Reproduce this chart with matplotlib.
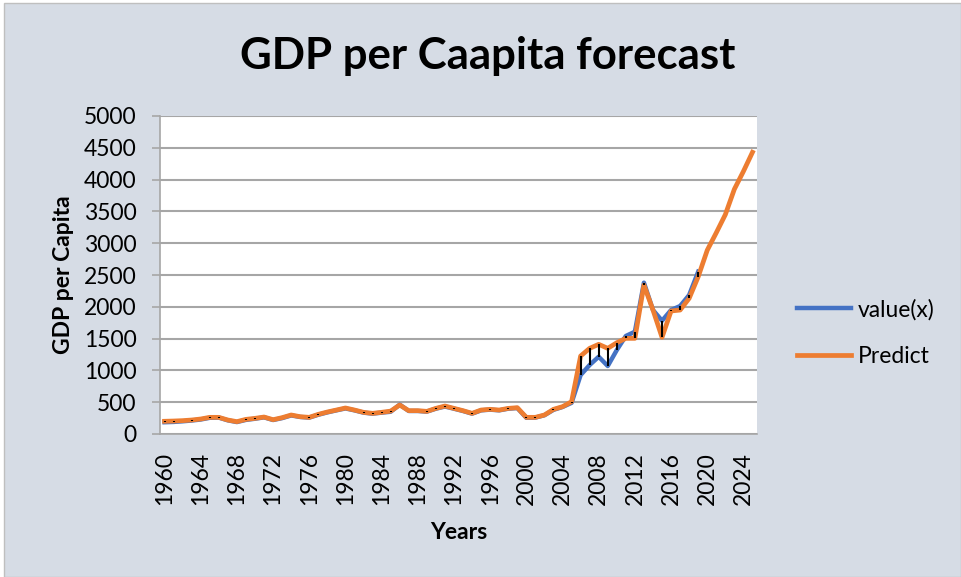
import matplotlib.pyplot as plt
from matplotlib.patches import Rectangle

# dati
years = list(range(1960, 2026))
value_x = [185, 190, 200, 212, 228, 255, 258, 215, 188, 222, 240, 262, 220, 250, 292, 268, 258,
           303, 340, 372, 402, 372, 336, 320, 336, 350, 462, 362, 362, 352, 398, 432, 398, 362, 320,
           372, 383, 372, 398, 408, 255, 258, 295, 380, 425, 490, 927, 1085, 1215, 1069, 1320,
           1541, 1608, 2379, 1949, 1781, 1949, 2012, 2185, 2552]
predict = [200, 204, 210, 220, 236, 262, 262, 220, 194, 230, 246, 267, 225, 257, 299, 272, 262,
           309, 346, 377, 409, 377, 341, 325, 341, 360, 456, 367, 367, 356, 403, 440, 403, 367, 325,
           377, 388, 377, 403, 414, 262, 262, 299, 388, 430, 508, 1226, 1347, 1410, 1347, 1435,
           1504, 1504, 2342, 1950, 1520, 1934, 1949, 2133, 2473, 2890, 3165, 3450, 3850, 4130, 4430]
yticks = [0, 500, 1000, 1500, 2000, 2500, 3000, 3500, 4000, 4500, 5000]
xtick_years = list(range(1960, 2025, 4))

plt.rcParams['font.family'] = ['Lato', 'DejaVu Sans']

blu = '#4472C4'
arancio = '#ED7D31'
griglia = '#A6A6A6'
sfondo = '#D6DCE5'

fig = plt.figure(figsize=(9.62, 5.77), dpi=100, facecolor='white')
fig.patches.append(Rectangle((0.004, 0), 0.995, 0.994, transform=fig.transFigure,
                             facecolor=sfondo, edgecolor='#BFBFBF', linewidth=1, zorder=-10))

ax = fig.add_axes([160 / 962, 1 - 434 / 577, 597 / 962, 318 / 577])
ax.set_facecolor('white')

n = len(value_x)
ax.vlines(years[:n], value_x, predict[:n], color='black', linewidth=1.5, zorder=4)
ax.plot(years[:n], value_x, color=blu, linewidth=3.2, label='value(x)', zorder=2)
ax.plot(years, predict, color=arancio, linewidth=3.4, label='Predict', zorder=3)

ax.set_xlim(1959.5, 2025.5)
ax.set_ylim(0, 5000)
ax.set_yticks(yticks)
ax.set_yticklabels([str(v) for v in yticks])
ax.set_xticks(xtick_years)
ax.set_xticklabels([str(y) for y in xtick_years], rotation=90)
ax.tick_params(axis='y', labelsize=16.5, length=6, color=griglia, width=1.2, pad=11)
ax.tick_params(axis='x', labelsize=16.5, length=0, pad=13)
ax.grid(axis='y', color=griglia, linewidth=1.5)
ax.set_axisbelow(True)
for s in ['top', 'right']:
    ax.spines[s].set_visible(False)
for s in ['left', 'bottom']:
    ax.spines[s].set_color(griglia)
    ax.spines[s].set_linewidth(1.2)

ax.set_ylabel('GDP per Capita', fontsize=16.5, fontweight='bold', labelpad=7)
ax.set_xlabel('Years', fontsize=16.5, fontweight='bold', labelpad=12)

fig.text(0.507, 0.903, 'GDP per Caapita forecast', fontsize=31.5, fontweight='bold',
         ha='center', va='center')

ax.legend(loc='center left', bbox_to_anchor=(797 / 962, 1 - 333 / 577),
          bbox_transform=fig.transFigure, frameon=False, fontsize=16.5,
          borderpad=0, borderaxespad=0,
          handlelength=2.35, handletextpad=0.3, labelspacing=1.12)

fig.savefig('out.png', dpi=100, facecolor=fig.get_facecolor())
